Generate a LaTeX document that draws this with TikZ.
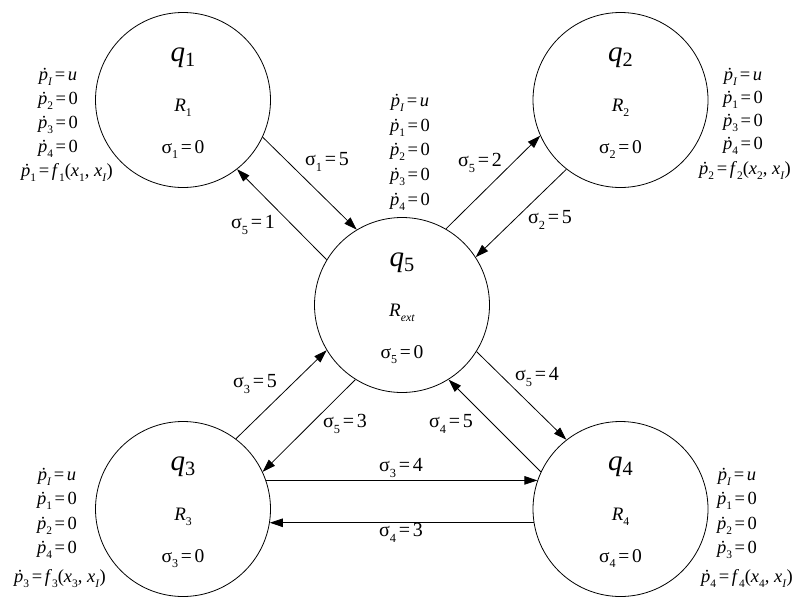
\documentclass[tikz,border=0pt]{standalone}
\usepackage{fontspec}
\setmainfont{Liberation Serif}
\usepackage{graphicx}
\usetikzlibrary{arrows.meta}
\newcommand\lo[1]{\raisebox{-0.28em}{\scalebox{0.62}{#1}}}
\newcommand\qsb[1]{\raisebox{-0.2em}{\scalebox{0.7}{#1}}}
\newcommand\pdot{\textit{ṗ}}
\newcommand\eq{\kern0.14em=\kern0.14em}
\begin{document}
\begin{tikzpicture}[x=1pt,y=-1pt,
  state/.style={circle,draw,line width=0.8pt,minimum size=175pt,inner sep=0pt},
  edge/.style={line width=0.8pt,-{Triangle[length=13pt,width=8.5pt]}},
  txt/.style={font=\fontsize{18.5pt}{18.5pt}\selectfont,inner sep=0pt},
  lab/.style={font=\fontsize{20pt}{20pt}\selectfont,inner sep=0pt},
  qlab/.style={font=\fontsize{29pt}{29pt}\selectfont,inner sep=0pt,anchor=base},
  rlab/.style={font=\fontsize{19pt}{19pt}\selectfont,inner sep=0pt,anchor=base},
  slab/.style={font=\fontsize{19.5pt}{19.5pt}\selectfont,inner sep=0pt,anchor=base},
  eqn/.style={txt,anchor=base}]
\useasboundingbox (0,0) rectangle (811,608);
% states
\node[state] (q1) at (183,100) {};
\node[state] (q2) at (620.5,100) {};
\node[state] (q5) at (402,305) {};
\node[state] (q3) at (183,509) {};
\node[state] (q4) at (620.5,509) {};
% state contents
\node[qlab] (q1a) at ([yshift=39pt]q1.center) {\textit{q}\qsb{1}};
\node[rlab] (q1b) at ([yshift=-11pt]q1.center) {\textit{R}\lo{1}};
\node[slab] (q1c) at ([yshift=-53pt]q1.center) {σ\lo{1}\eq0};
\node[qlab] (q2a) at ([yshift=39pt]q2.center) {\textit{q}\qsb{2}};
\node[rlab] (q2b) at ([yshift=-11pt]q2.center) {\textit{R}\lo{2}};
\node[slab] (q2c) at ([yshift=-53pt]q2.center) {σ\lo{2}\eq0};
\node[qlab] (q5a) at ([yshift=39pt]q5.center) {\textit{q}\qsb{5}};
\node[rlab] (q5b) at ([yshift=-11pt]q5.center) {\textit{R}\lo{\textit{ext}}};
\node[slab] (q5c) at ([yshift=-53pt]q5.center) {σ\lo{5}\eq0};
\node[qlab] (q3a) at ([yshift=39pt]q3.center) {\textit{q}\qsb{3}};
\node[rlab] (q3b) at ([yshift=-11pt]q3.center) {\textit{R}\lo{3}};
\node[slab] (q3c) at ([yshift=-53pt]q3.center) {σ\lo{3}\eq0};
\node[qlab] (q4a) at ([yshift=39pt]q4.center) {\textit{q}\qsb{4}};
\node[rlab] (q4b) at ([yshift=-11pt]q4.center) {\textit{R}\lo{4}};
\node[slab] (q4c) at ([yshift=-53pt]q4.center) {σ\lo{4}\eq0};
% equations q1
\node[eqn] (e11) at (58,80) {\pdot\lo{\textit{I}}\eq\textit{u}};
\node[eqn] (e12) at (58,104) {\pdot\lo{2}\eq0};
\node[eqn] (e13) at (58,128) {\pdot\lo{3}\eq0};
\node[eqn] (e14) at (58,152) {\pdot\lo{4}\eq0};
\node[eqn] (e15) at (67,176) {\pdot\lo{1}\eq\textit{f}\lo{1}(\textit{x}\lo{1}, \textit{x}\lo{\textit{I}})};
% equations q2
\node[eqn] (e21) at (743,80) {\pdot\lo{\textit{I}}\eq\textit{u}};
\node[eqn] (e22) at (743,103) {\pdot\lo{1}\eq0};
\node[eqn] (e23) at (743,126) {\pdot\lo{3}\eq0};
\node[eqn] (e24) at (743,149) {\pdot\lo{4}\eq0};
\node[eqn] (e25) at (745,174) {\pdot\lo{2}\eq\textit{f}\lo{2}(\textit{x}\lo{2}, \textit{x}\lo{\textit{I}})};
% equations q5
\node[eqn] (e51) at (410,106) {\pdot\lo{\textit{I}}\eq\textit{u}};
\node[eqn] (e52) at (410,131) {\pdot\lo{1}\eq0};
\node[eqn] (e53) at (410,155) {\pdot\lo{2}\eq0};
\node[eqn] (e54) at (410,180) {\pdot\lo{3}\eq0};
\node[eqn] (e55) at (410,205) {\pdot\lo{4}\eq0};
% equations q3
\node[eqn] (e31) at (57,480) {\pdot\lo{\textit{I}}\eq\textit{u}};
\node[eqn] (e32) at (57,504) {\pdot\lo{1}\eq0};
\node[eqn] (e33) at (57,529) {\pdot\lo{2}\eq0};
\node[eqn] (e34) at (57,553) {\pdot\lo{4}\eq0};
\node[eqn] (e35) at (60,582) {\pdot\lo{3}\eq\textit{f}\lo{3}(\textit{x}\lo{3}, \textit{x}\lo{\textit{I}})};
% equations q4
\node[eqn] (e41) at (737,480) {\pdot\lo{\textit{I}}\eq\textit{u}};
\node[eqn] (e42) at (737,504) {\pdot\lo{1}\eq0};
\node[eqn] (e43) at (737,529) {\pdot\lo{2}\eq0};
\node[eqn] (e44) at (737,553) {\pdot\lo{3}\eq0};
\node[eqn] (e45) at (747,582) {\pdot\lo{4}\eq\textit{f}\lo{4}(\textit{x}\lo{4}, \textit{x}\lo{\textit{I}})};
% transitions
\draw[edge] (q1.-25) -- (q5.121);
\draw[edge] (q5.149) -- (q1.-52);
\draw[edge] (q5.60) -- (q2.-156);
\draw[edge] (q2.-128) -- (q5.33);
\draw[edge] (q3.53) -- (q5.-149);
\draw[edge] (q5.-122) -- (q3.25);
\draw[edge] (q5.-32) -- (q4.128);
\draw[edge] (q4.155) -- (q5.-58);
\draw[edge] (q3.19) -- (q4.161);
\draw[edge] (q4.189.5) -- (q3.-9.5);
% transition labels
\node[lab] (l15) at (327,162) {σ\lo{1}\eq5};
\node[lab] (l51) at (253,225) {σ\lo{5}\eq1};
\node[lab] (l52) at (480,163) {σ\lo{5}\eq2};
\node[lab] (l25) at (550,220) {σ\lo{2}\eq5};
\node[lab] (l35) at (255,384) {σ\lo{3}\eq5};
\node[lab] (l53) at (345,424) {σ\lo{5}\eq3};
\node[lab] (l54) at (537,377) {σ\lo{5}\eq4};
\node[lab] (l45) at (451,424) {σ\lo{4}\eq5};
\node[lab] (l34) at (401,468) {σ\lo{3}\eq4};
\node[lab] (l43) at (401,533) {σ\lo{4}\eq3};
\end{tikzpicture}
\end{document}
